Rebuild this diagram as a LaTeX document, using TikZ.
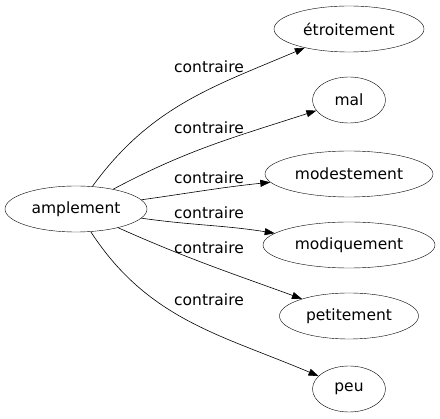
\documentclass[tikz,border=0pt]{standalone}
\usepackage{fontspec}
\setmainfont{DejaVu Sans}
\usetikzlibrary{shapes.geometric,arrows.meta}
\tikzset {>={Triangle[length=10pt,width=7pt]}}
\tikzset{word/.style={draw,ellipse,inner sep=0pt,minimum height=46pt,font=\fontsize{15.5}{18}\selectfont},
  lab/.style={inner sep=0pt,font=\fontsize{15.5}{18}\selectfont},
  rel/.style={->,line width=0.6pt}}

\begin{document}
\begin{tikzpicture}[x=1pt,y=-1pt]
\useasboundingbox (0,0) rectangle (440,419);
\node[word,minimum width=142pt] (amp) at (76,209) {amplement};
\node[word,minimum width=150pt] (etr) at (349,29) {étroitement};
\node[word,minimum width=73pt] (mal) at (349,100) {mal};
\node[word,minimum width=168pt] (mde) at (349,174) {modestement};
\node[word,minimum width=172pt] (mdq) at (349,245) {modiquement};
\node[word,minimum width=139pt] (pet) at (349,316) {petitement};
\node[word,minimum width=73pt] (peu) at (349,389) {peu};
% labels
\node[lab] (l1) at (209,67) {contraire};
\node[lab] (l2) at (209,128) {contraire};
\node[lab] (l3) at (209,178) {contraire};
\node[lab] (l4) at (209,213) {contraire};
\node[lab] (l5) at (209,248) {contraire};
\node[lab] (l6) at (209,300) {contraire};
\draw[rel] (amp) to[out=54,in=203] (etr);
\draw[rel] (amp) to[out=28,in=198] (mal);
\draw[rel] (amp) to[out=8,in=186] (mde);
\draw[rel] (amp) to[out=-8,in=171] (mdq);
\draw[rel] (amp) to[out=-24,in=160] (pet);
\draw[rel] (amp) to[out=-57,in=157] (peu);
\end{tikzpicture}
\end{document}
